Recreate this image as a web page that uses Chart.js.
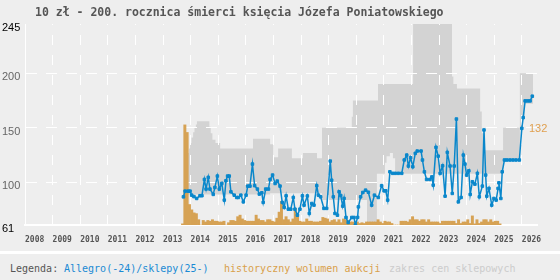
<!doctype html>
<html lang="pl">
<head>
<meta charset="utf-8">
<title>10 zł - 200. rocznica śmierci księcia Józefa Poniatowskiego</title>
<style>
  html,body{margin:0;padding:0;background:#eeeeee;width:560px;height:280px;overflow:hidden}
  .wrap{position:relative;width:560px;height:280px}
  #chart{position:absolute;left:0;top:0}
  .title{position:absolute;left:35px;top:5px;font:bold 11.5px/14px "DejaVu Sans Mono",monospace;color:#555;white-space:nowrap}
  .sep{position:absolute;left:0;top:251px;width:560px;height:3px;background:#fff}
  .legend{position:absolute;left:0;top:254px;width:560px;height:26px;font:10px/30px "DejaVu Sans Mono",monospace;white-space:nowrap}
  .legend span{position:absolute;top:0}
</style>
</head>
<body>
<div class="wrap">
  <canvas id="chart" width="560" height="250"></canvas>
  <div class="title">10 zł - 200. rocznica śmierci księcia Józefa Poniatowskiego</div>
  <div class="sep"></div>
  <div class="legend">
    <span style="left:10px;color:#555">Legenda:</span>
    <span style="left:64px;color:#1a8ad4">Allegro(-24)/sklepy(25-)</span>
    <span style="left:224px;color:#d9a04a">historyczny wolumen aukcji</span>
    <span style="left:389px;color:#cccccc">zakres cen sklepowych</span>
  </div>
</div>
<script src="https://cdn.jsdelivr.net/npm/chart.js@4.4.1/dist/chart.umd.min.js"></script>
<script>
// osie
const yearTicks = [2008,2009,2010,2011,2012,2013,2014,2015,2016,2017,2018,2019,2020,2021,2022,2023,2024,2025,2026];
const priceTicks = [61,100,150,200,245];
const volumeLabel = 132;

// ceny Allegro/sklepy (rok dziesiętny, zł)
const priceYears = [2013.74,2013.80,2013.91,2013.98,2014.04,2014.12,2014.22,2014.34,2014.41,2014.50,2014.56,2014.64,2014.70,2014.82,2014.88,2014.97,
  2015.04,2015.13,2015.22,2015.28,2015.34,2015.40,2015.46,2015.58,2015.67,2015.73,2015.82,2015.91,
  2016.01,2016.07,2016.15,2016.24,2016.32,2016.42,2016.49,2016.58,2016.63,2016.72,2016.82,2016.88,2016.97,
  2017.06,2017.14,2017.24,2017.32,2017.39,2017.46,2017.54,2017.63,2017.72,2017.78,2017.87,2017.96,
  2018.05,2018.11,2018.23,2018.30,2018.39,2018.47,2018.57,2018.63,2018.71,2018.83,2018.93,
  2019.06,2019.11,2019.17,2019.23,2019.32,2019.38,2019.44,2019.51,2019.56,2019.63,2019.71,2019.84,2019.92,2019.97,
  2020.05,2020.08,2020.16,2020.24,2020.34,2020.44,2020.56,2020.66,2020.80,2020.92,
  2021.01,2021.07,2021.14,2021.22,2021.32,2021.42,2021.53,2021.65,2021.74,2021.83,2021.89,2021.97,
  2022.05,2022.14,2022.21,2022.35,2022.40,2022.47,2022.55,2022.67,2022.74,2022.79,2022.89,2022.97,
  2023.04,2023.13,2023.22,2023.30,2023.40,2023.48,2023.55,2023.63,2023.70,2023.80,2023.88,2023.94,
  2024.00,2024.08,2024.13,2024.21,2024.30,2024.39,2024.46,2024.57,2024.63,2024.69,2024.73,2024.81,2024.91,2024.99,
  2025.07,2025.14,2025.17,2025.24,2025.29,2025.37,2025.46,2025.57,2025.68,2025.79,2025.91,
  2026.00,2026.05,2026.12,2026.21,2026.30,2026.38];
const priceValues = [86.8,92,92,92,88.3,87,85.3,87.8,87.8,102.7,93.9,104.6,93.9,89,95.4,105.8,
  93.9,99,83.8,101.5,105.8,105.8,91.4,88.3,86.2,86.2,88.3,82.2,
  88.3,96.6,96.6,116.8,97,93.9,89.3,90.5,81.7,93.9,93.9,102.7,106.7,
  99,101.2,96.6,81.7,77.1,87.7,75.5,75.5,86.2,75.5,70,75.5,
  87.7,79.2,87.6,71.6,80.7,79.2,97,88.3,86.8,76.2,76.2,
  119.5,102,86.8,71.6,70,91.4,88,78.3,85.3,67.9,63.3,67.9,67.9,61,
  68,77.6,86.8,90.8,92.9,91,79.2,88.3,86.2,97,
  92.3,92.3,83.8,109.7,108.3,108.3,108.3,108.3,120.5,125,115,122.6,
  114.3,126.6,128.7,128.7,120.5,109.7,102.7,102.7,105,97.5,132.1,124,
  108.3,115.2,87.4,127.5,115,89.9,115,158,82.2,86.2,125,116.8,
  106.7,110.6,89,100.6,98.4,108.3,86.8,96.6,148,106.7,87.4,94.5,79.2,85.3,
  83.8,94.5,99.6,85.3,109.7,120.5,120.5,120.5,120.5,120.5,120.5,
  149.5,159.3,174.6,174.6,174.6,178.9];

// zakres cen sklepowych (schodki)
const bandYears = [2013.90,2013.94,2013.98,2014.03,2014.09,2014.14,2014.19,2014.23,2014.68,2014.73,2014.79,2014.90,2015.07,
  2016.26,2016.88,2016.99,2017.17,2017.67,2018.07,2018.58,2018.76,2019.84,2019.88,2020.39,2020.75,2020.79,
  2021.04,2021.10,2021.22,2021.33,2021.41,2022.06,2023.47,2023.52,2023.65,2024.49,2024.55,2024.67,
  2025.32,2025.93,2026.03,2026.10,2026.41];
const bandHigh = [127,131,136,141,146,150,153,156,151,145,139,136,131,
  140,135,123,131,122,127,122,150,160,175,175,175,190,
  190,190,190,190,190,245,197,190,186,165,145,129.5,
  150,200,200,200,200];
const bandLow = [89,89,89,89,89,89,89,89,89,89,89,89,89,
  89,90,90,90,90,90,90,84,84,84,62,108,108,
  118,124,127,122,108,108,108,108,108,108,108,108,
  120,150,160,172,172];

// wolumen aukcji, miesięcznie od 2013-09
const volumeStartYear = 2013;
const volumeStartMonth = 9;
const volumeValues = [1.5,132,122,27,
  20,16,15,7,0,6,4,6,5,7,5,5,
  4,4,5,0,3,6,6,5,11,13,8,6,
  5,5,5,5,13,8,6,6,4,7,7,5,
  4,9,17,31,7,11,7,4,8,22,12,5,
  4,4,8,5,5,4,4,4,5,10,9,8,
  4,6,7,4,7,3,8,7,6,4,4,3,
  4,2,3,2,4,4,4,4,4,7,4,2,
  5,4,4,2,0,0,0,5,5,5,4,7,
  11,7,7,5,7,7,4,7,4,4,4,4,
  2,5,5,5,5,5,5,2,7,2,4,4,
  7,2,12,1.5,7,2,4,7,7,4,7,4,
  5,5,1.5];

const pricePoints = priceYears.map((x, i) => ({ x, y: priceValues[i] }));
const bandHighPoints = bandYears.map((x, i) => ({ x, y: bandHigh[i] }));
const bandLowPoints = bandYears.map((x, i) => ({ x, y: bandLow[i] }));
const volumePoints = volumeValues.map((v, i) => ({
  x: volumeStartYear + (volumeStartMonth - 1 + i + 0.5) / 12, y: v
}));

const BLUE = '#0a87cb';
const GRID = '#ffffff';
const CLEAR = 'rgba(0,0,0,0)';
const showPriceGrid = [100, 150, 200];

// etykieta maksymalnego wolumenu, przy prawej krawędzi wykresu
const volumeLabelPlugin = {
  id: 'volumeLabel',
  afterDraw(chart) {
    const { ctx, chartArea, scales } = chart;
    ctx.save();
    ctx.font = '11px "Liberation Sans"';
    ctx.fillStyle = '#e0a050';
    ctx.textAlign = 'left';
    ctx.textBaseline = 'middle';
    ctx.fillText(String(volumeLabel), chartArea.right - 8, scales.yv.getPixelForValue(volumeLabel) + 4);
    ctx.restore();
  }
};

new Chart(document.getElementById('chart'), {
  type: 'line',
  data: {
    datasets: [
      { data: bandHighPoints, stepped: true, fill: '+1', backgroundColor: '#d3d3d3',
        borderWidth: 0, borderColor: CLEAR, pointRadius: 0, order: 3 },
      { data: bandLowPoints, stepped: true, fill: false,
        borderWidth: 0, borderColor: CLEAR, pointRadius: 0, order: 4 },
      { type: 'bar', data: volumePoints, yAxisID: 'yv', backgroundColor: '#d6a254',
        barPercentage: 1, categoryPercentage: 1, borderWidth: 0, order: 2 },
      { data: pricePoints, borderColor: BLUE, borderWidth: 1.5, tension: 0,
        pointStyle: 'rect', pointRadius: 1.8, pointBorderWidth: 1,
        pointBackgroundColor: BLUE, pointBorderColor: BLUE, order: 1 }
    ]
  },
  plugins: [volumeLabelPlugin],
  options: {
    responsive: false,
    animation: false,
    events: [],
    layout: { padding: { left: 2, top: 24, right: 23, bottom: 0 } },
    // pasmo cen rysowane pod siatką
    plugins: { legend: { display: false }, tooltip: { enabled: false }, filler: { drawTime: 'beforeDraw' } },
    scales: {
      x: {
        type: 'linear', min: 2008, max: 2026.55, offset: false,
        afterBuildTicks: s => { s.ticks = yearTicks.map(v => ({ value: v })); },
        afterFit: s => { s.height = 25; },
        grid: { offset: false, color: c => c.tick && c.tick.value === 2008 ? CLEAR : GRID, lineWidth: 1, drawTicks: false },
        border: { display: true, color: GRID, width: 2, dash: [10, 10], dashOffset: 9 },
        ticks: { align: 'start', padding: 10, maxRotation: 0, autoSkip: false, color: '#555',
          font: { family: 'DejaVu Sans Mono', size: 8, weight: 'bold' },
          callback: v => String(v) }
      },
      y: {
        position: 'left', min: 61, max: 245,
        afterBuildTicks: s => { s.ticks = priceTicks.map(v => ({ value: v })); },
        afterFit: s => { s.width = 23; },
        grid: { color: c => c.tick && showPriceGrid.includes(c.tick.value) ? GRID : CLEAR, lineWidth: 1, drawTicks: false },
        border: { display: true, color: GRID, width: 1, dash: [11, 9] },
        ticks: { crossAlign: 'far', padding: 0, labelOffset: 4,
          color: c => (c.tick.value === 245 || c.tick.value === 61) ? '#000' : '#666',
          font: { family: 'Liberation Sans', size: 11 },
          callback: v => String(v) }
      },
      yv: {
        display: false, position: 'right', min: 0, max: 265
      }
    }
  }
});
</script>
</body>
</html>
